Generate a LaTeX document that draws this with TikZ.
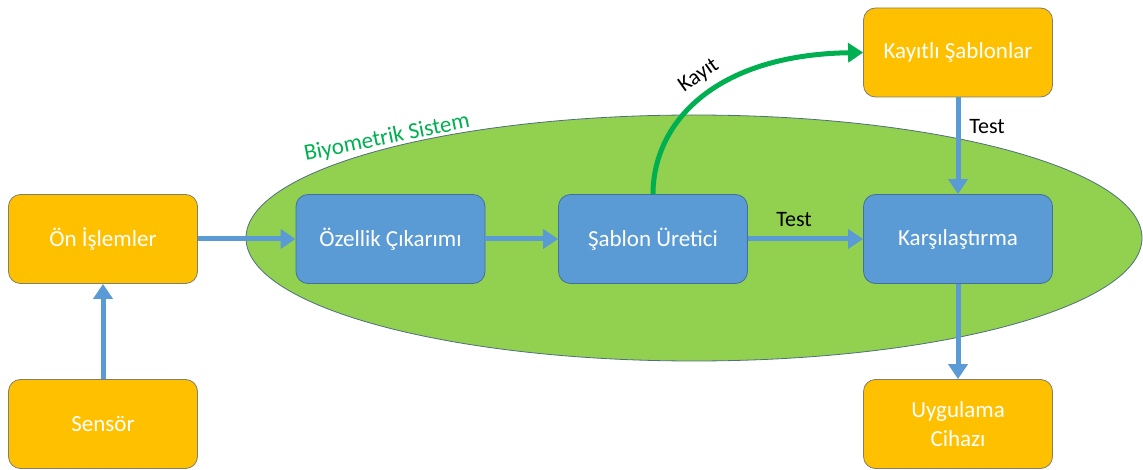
\documentclass[tikz,border=0pt]{standalone}
\usepackage{fontspec}
\setmainfont{Carlito}
\usetikzlibrary{arrows.meta}
\definecolor{boxorange}{HTML}{FFC000}
\definecolor{boxblue}{HTML}{5B9BD5}
\definecolor{blueedge}{HTML}{41719C}
\definecolor{orangeedge}{HTML}{7F7F6A}
\definecolor{sysgreen}{HTML}{92D050}
\definecolor{sysedge}{HTML}{4F6F7F}
\definecolor{arrowgreen}{HTML}{00B050}
\tikzset{
  box/.style={rectangle, rounded corners=12pt, minimum width=189pt, minimum height=89pt,
    text=white, align=center, line width=0.8pt, inner sep=0pt,
    font=\fontsize{23}{29}\selectfont},
  orangebox/.style={box, fill=boxorange, draw=orangeedge},
  bluebox/.style={box, fill=boxblue, draw=blueedge},
  flow/.style={draw=boxblue, line width=5pt, -{Triangle[length=15pt,width=19pt]}},
  enroll/.style={draw=arrowgreen, line width=5pt, -{Triangle[length=15pt,width=19pt]}},
  lbl/.style={font=\fontsize{22}{26}\selectfont, text=black, inner sep=0pt}
}
\begin{document}
\begin{tikzpicture}[x=1pt,y=-1pt]
\useasboundingbox (0,0) rectangle (1143,470);

% the biometric system region
\draw[fill=sysgreen, draw=sysedge, line width=0.8pt] (694,238) ellipse [x radius=448, y radius=123];
\node[text=arrowgreen, font=\fontsize{23}{26}\selectfont, rotate=11.5, inner sep=0pt]
  (syslabel) at (387,138) {Biyometrik Sistem};

% blocks
\node[orangebox] (pre)    at (103,239) {Ön İşlemler};
\node[orangebox] (sensor) at (103,424)   {Sensör};
\node[bluebox]   (feat)   at (390.5,239) {Özellik Çıkarımı};
\node[bluebox]   (tmpl)   at (653,239) {Şablon Üretici};
\node[bluebox]   (comp)   at (958,239) {Karşılaştırma};
\node[orangebox] (stored) at (958,52.5)  {Kayıtlı Şablonlar};
\node[orangebox] (app)    at (958,424)   {Uygulama\\Cihazı};

% data flow
\draw[flow] (sensor.north) -- (pre.south);
\draw[flow] (pre.east) -- (feat.west);
\draw[flow] (feat.east) -- (tmpl.west);
\draw[flow] (tmpl.east) -- (comp.west);
\draw[flow] (stored.south) -- (comp.north);
\draw[flow] (comp.south) -- (app.north);

% enrollment path
\draw[enroll] (tmpl.north) .. controls (653,125) and (712,55) .. (stored.west);

% labels
\node[lbl] (testh) at (794,220) {Test};
\node[lbl] (testv) at (987,127) {Test};
\node[lbl, rotate=35] (kayit) at (699,76) {Kayıt};
\end{tikzpicture}
\end{document}
